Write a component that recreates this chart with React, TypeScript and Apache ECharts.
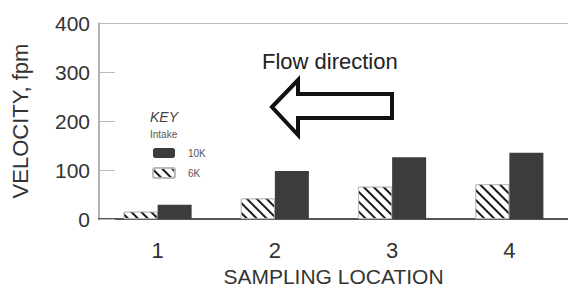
import React, { useEffect, useRef } from "react";
import * as echarts from "echarts";

const categories = ["1", "2", "3", "4"];
const intake6K = [15, 42, 66, 71];
const intake10K = [29, 98, 126, 135];
const yTicks = { min: 0, max: 400, interval: 100 };

const FONT = "Liberation Sans, Arial, Helvetica, sans-serif";

export default function App() {
  const ref = useRef<HTMLDivElement>(null);
  useEffect(() => {
    if (!ref.current) return;
    const chart = echarts.init(ref.current, undefined, { renderer: "svg" });
    const option: any = {
      animation: false,
      backgroundColor: "#ffffff",
      grid: { left: 99, top: 23, right: 0, bottom: 69, outerBoundsMode: "none", containLabel: false },
      legend: {
        orient: "vertical",
        left: 152,
        top: 148,
        padding: 0,
        itemWidth: 22,
        itemHeight: 10,
        itemGap: 9,
        data: ["10K", "6K"],
        textStyle: { fontFamily: FONT, fontSize: 10, color: "#555", padding: [0, 0, 0, 8] },
      },
      xAxis: [
        {
          type: "category",
          data: categories,
          position: "bottom",
          axisLine: { lineStyle: { color: "#555", width: 2 } },
          axisTick: { inside: true, length: 5, lineStyle: { color: "#aaa" } },
          axisLabel: { fontFamily: FONT, fontSize: 22, color: "#333", margin: 20 },
          name: "SAMPLING LOCATION",
          nameLocation: "middle",
          nameGap: 41,
          nameTextStyle: { fontFamily: FONT, fontSize: 21, lineHeight: 21, color: "#333" },
        },
        {
          type: "category",
          data: categories,
          position: "top",
          axisLine: { lineStyle: { color: "#bbb", width: 1 } },
          axisTick: { inside: true, length: 5, lineStyle: { color: "#bbb" } },
          axisLabel: { show: false },
        },
      ],
      yAxis: {
        type: "value",
        min: yTicks.min,
        max: yTicks.max,
        interval: yTicks.interval,
        axisLine: { show: true, lineStyle: { color: "#999", width: 1.5 } },
        axisTick: { show: true, inside: true, length: 16, lineStyle: { color: "#bbb" } },
        splitLine: { show: false },
        axisLabel: { fontFamily: FONT, fontSize: 21, color: "#333", margin: 9 },
        name: "VELOCITY, fpm",
        nameLocation: "middle",
        nameGap: 68,
        nameRotate: 90,
        nameTextStyle: { fontFamily: FONT, fontSize: 22, color: "#333" },
      },
      series: [
        {
          name: "6K",
          type: "bar",
          data: intake6K,
          barWidth: 34,
          barGap: "0%",
          itemStyle: {
            color: "#ffffff",
            borderColor: "#bbb",
            borderWidth: 0.8,
            decal: {
              symbol: "rect",
              symbolSize: 1,
              color: "#1a1a1a",
              dashArrayX: [1, 0],
              dashArrayY: [2, 4.5],
              rotation: Math.PI / 4,
            },
          },
        },
        {
          name: "10K",
          type: "bar",
          data: intake10K,
          barWidth: 34,
          barGap: "0%",
          itemStyle: { color: "#3c3c3c" },
        },
      ],
      graphic: [
        {
          type: "text",
          left: 262,
          top: 50,
          style: { text: "Flow direction", fontFamily: FONT, fontSize: 22, fill: "#222" },
        },
        {
          type: "polygon",
          shape: {
            points: [
              [272, 107],
              [298, 80],
              [298, 94],
              [392, 94],
              [392, 118],
              [298, 118],
              [298, 135],
            ],
          },
          style: { fill: "#fff", stroke: "#111", lineWidth: 4, lineJoin: "miter" },
        },
        {
          type: "text",
          left: 150,
          top: 110,
          style: { text: "KEY", fontFamily: FONT, fontSize: 14, fontStyle: "italic", fill: "#444" },
        },
        {
          type: "text",
          left: 150,
          top: 129,
          style: { text: "Intake", fontFamily: FONT, fontSize: 10, fill: "#555" },
        },
      ],
    };
    chart.setOption(option);
    return () => chart.dispose();
  }, []);
  return (
    <div
      ref={ref}
      style={{ position: "absolute", left: 0, top: 0, width: 568, height: 288 }}
    />
  );
}
